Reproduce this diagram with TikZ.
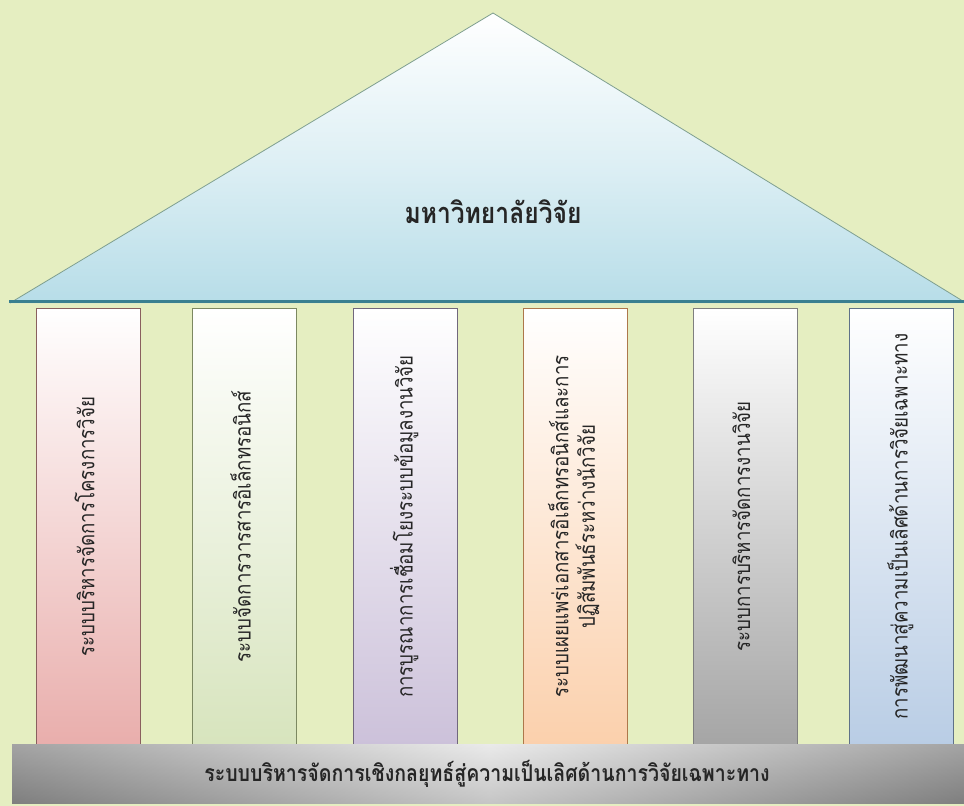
\documentclass[tikz,border=0pt]{standalone}
\usepackage{fontspec}
\usepackage{xcolor}
\usepackage{tikz}
\newfontfamily\thaifont[Script=Thai,FakeStretch=0.85]{Loma}

\definecolor{bgcol}{HTML}{E5EEC1}
\definecolor{roofblue}{HTML}{B7DDE8}
\definecolor{roofedge}{HTML}{7F9F8F}
\definecolor{roofshadow}{HTML}{3A7F90}
\definecolor{pinkfill}{HTML}{E9AEAC}
\definecolor{pinkedge}{HTML}{953735}
\definecolor{greenfill}{HTML}{D7E4BD}
\definecolor{greenedge}{HTML}{77933C}
\definecolor{lilacfill}{HTML}{CCC1DA}
\definecolor{lilacedge}{HTML}{5F497A}
\definecolor{peachfill}{HTML}{FBD0AC}
\definecolor{peachedge}{HTML}{E46C0A}
\definecolor{greyfill}{HTML}{A5A5A5}
\definecolor{greyedge}{HTML}{7F7F7F}
\definecolor{bluefill}{HTML}{B9CDE5}
\definecolor{blueedge}{HTML}{376092}

\begin{document}
\begin{tikzpicture}[x=1pt,y=-1pt]
      \tikzset{pillar/.style={rectangle,draw,line width=0.9pt,inner sep=0pt,
          minimum width=104pt,minimum height=437pt,
          font=\thaifont\fontsize{22}{24}\selectfont,text=black!85}}
      \tikzset{rooftext/.style={font=\thaifont\bfseries\fontsize{29}{32}\selectfont,text=black!85}}
      \tikzset{basetext/.style={font=\thaifont\bfseries\fontsize{23}{26}\selectfont,text=black!85}}
      \tikzset{shadowline/.style={line width=2.4pt,line cap=rect}}

      \useasboundingbox[fill=bgcol] (0,0) rectangle (964,806);

      % roof
      \coordinate (apex) at (493,13);
      \coordinate (eaveL) at (10,303);
      \coordinate (eaveR) at (966,303);
      \shade[top color=white,bottom color=roofblue,middle color=roofblue!45!white]
        (apex) -- (eaveL) -- (eaveR) -- cycle;
      \draw[roofedge,line width=0.8pt,line join=round] (eaveL) -- (apex) -- (eaveR);
      \draw[roofshadow,shadowline] ([yshift=1.5pt]eaveL) -- ([yshift=1.5pt]eaveR);
      \node[rooftext] (roof) at (493,212) {มหาวิทยาลัยวิจัย};

      % pillars
      \foreach \x/\fc/\dc/\txt [count=\n] in {
          88/pinkfill/pinkedge/{ระบบบริหารจัดการโครงการวิจัย},
          244/greenfill/greenedge/{ระบบจัดการวารสารอิเล็กทรอนิกส์},
          405/lilacfill/lilacedge/{การบูรณาการเชื่อมโยงระบบข้อมูลงานวิจัย},
          575/peachfill/peachedge/{ระบบเผยแพร่เอกสารอิเล็กทรอนิกส์และการ\\ปฏิสัมพันธ์ระหว่างนักวิจัย},
          745/greyfill/greyedge/{ระบบการบริหารจัดการงานวิจัย},
          901/bluefill/blueedge/{การพัฒนาสู่ความเป็นเลิศด้านการวิจัยเฉพาะทาง}}{
        \node[pillar,top color=white,bottom color=\fc,draw=\dc!45!gray] (p\n) at (\x,526.5)
          {\rotatebox{90}{\begin{tabular}{@{}c@{}}\txt\end{tabular}}};
        \draw[\dc,shadowline] (p\n.south west) -- (p\n.south east);
      }

      % base
      \shade[top color=gray!22,bottom color=gray!62] (12,744) rectangle (966,803);
      \shade[left color=black,right color=black,middle color=white,opacity=0.28]
        (12,744) rectangle (966,803);
      \node[basetext,minimum width=954pt,minimum height=59pt] (base) at (487,773.5)
        {ระบบบริหารจัดการเชิงกลยุทธ์สู่ความเป็นเลิศด้านการวิจัยเฉพาะทาง};
\end{tikzpicture}
\end{document}
